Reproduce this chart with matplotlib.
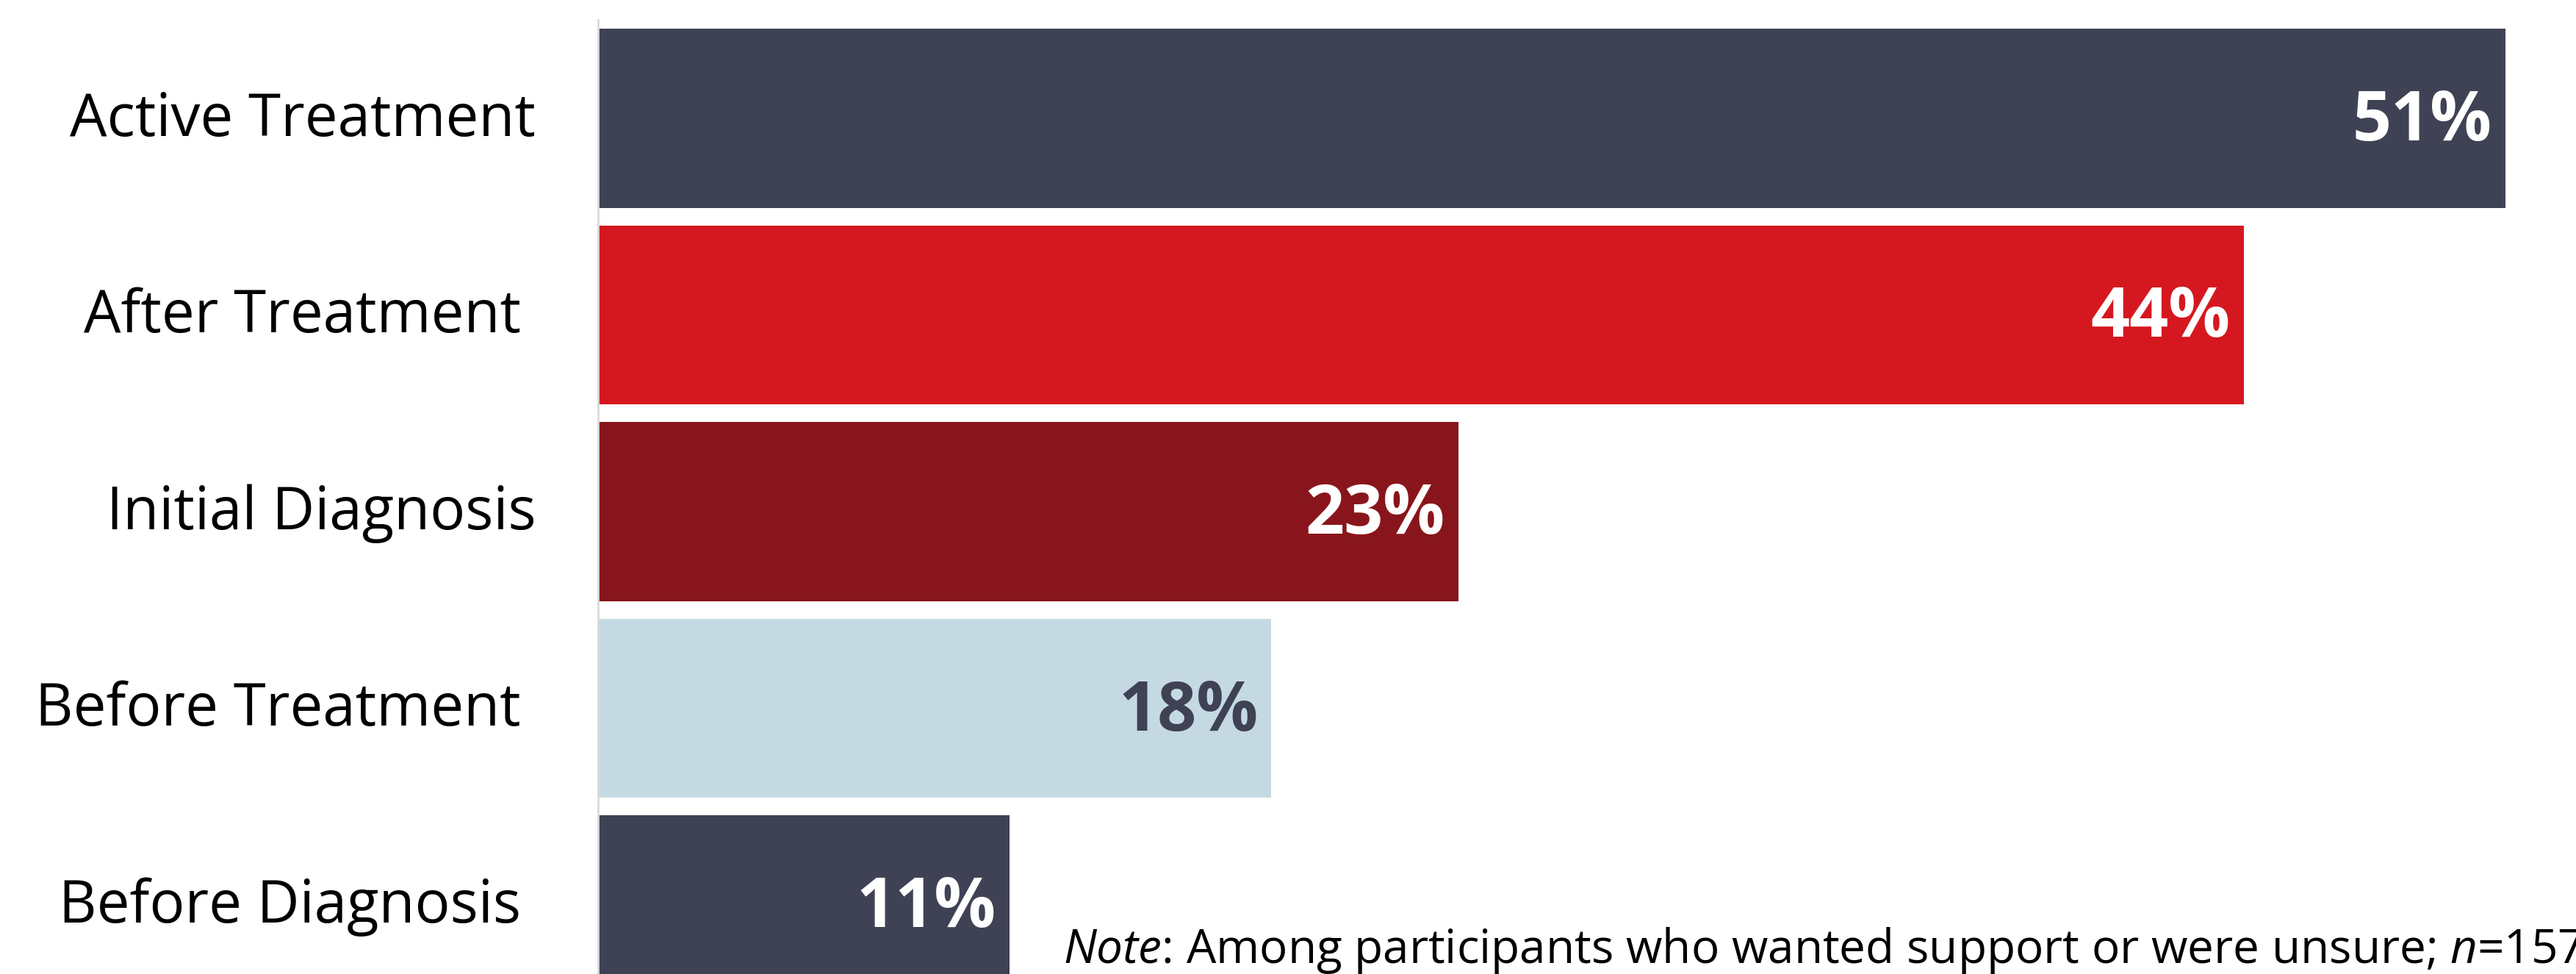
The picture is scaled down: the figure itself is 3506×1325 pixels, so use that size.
import matplotlib.pyplot as plt
from matplotlib.transforms import ScaledTranslation

plt.rcParams['font.family'] = ['Open Sans', 'DejaVu Sans']
plt.rcParams['mathtext.fontset'] = 'custom'
plt.rcParams['mathtext.rm'] = 'Open Sans'
plt.rcParams['mathtext.it'] = 'Open Sans:italic'

# stages, top to bottom
stages = ['Active Treatment', 'After Treatment ', 'Initial Diagnosis',
          'Before Treatment ', 'Before Diagnosis ']
pct = [51, 44, 23, 18, 11]
colors = ['#3F4254', '#D5181F', '#89151C', '#C5D9E3', '#3F4254']
label_colors = ['white', 'white', 'white', '#3F4254', 'white']

fig = plt.figure(figsize=(35.06, 13.25), dpi=100)
ax = fig.add_axes([0.2322, -0.0302, 0.7678, 1.0098])

pos = list(range(len(stages)))
ax.barh(pos, pct, height=0.91, color=colors)

# value labels inside the bar ends
for i, v in enumerate(pct):
    ax.annotate(f'{v}%', (v, i), xytext=(-13, -4), textcoords='offset points',
                ha='right', va='center', fontsize=67, fontweight='bold',
                color=label_colors[i])

ax.set_ylim(4.5, -0.5)
ax.set_xlim(0, 52.89)
ax.set_yticks(pos)
ax.set_yticklabels(stages, fontsize=57.5)
ax.tick_params(axis='y', length=0, pad=61)
ax.set_xticks([])

# nudge the category labels up a little
up = ScaledTranslation(0, 5 / 72, fig.dpi_scale_trans)
for lab in ax.get_yticklabels():
    lab.set_transform(lab.get_transform() + up)

for s in ['top', 'right', 'bottom']:
    ax.spines[s].set_visible(False)
ax.spines['left'].set_color('#D9D9D9')
ax.spines['left'].set_linewidth(2)

fig.text(0.4127, 0.0113,
         r'$\mathit{Note}$: Among participants who wanted support or were unsure; $\mathit{n}$=157',
         fontsize=46, va='baseline', ha='left')

fig.savefig('out.png', dpi=100)
